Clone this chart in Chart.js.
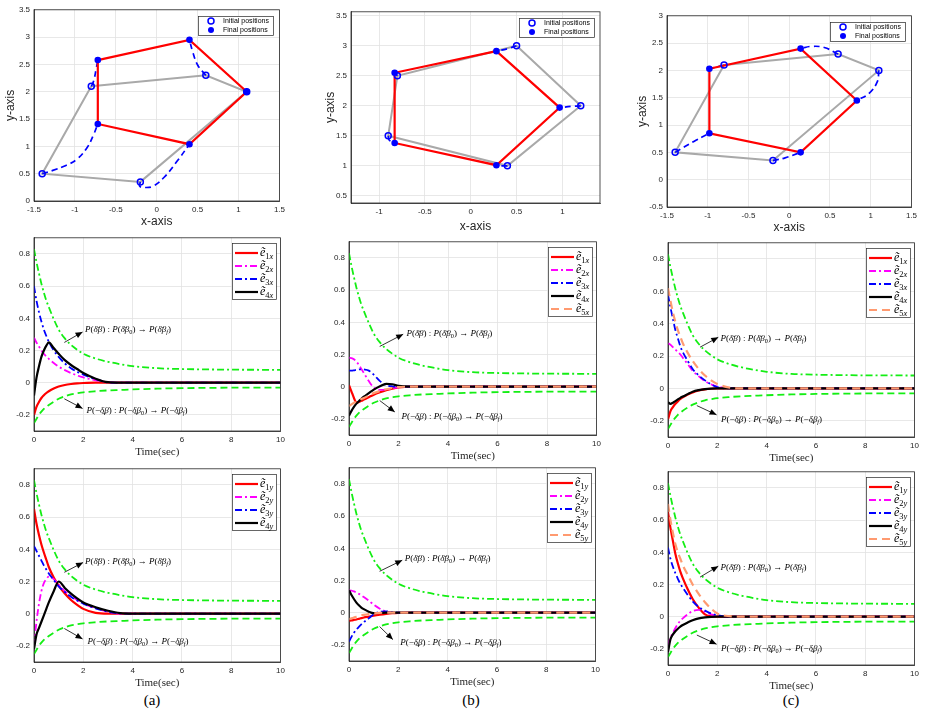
<!DOCTYPE html>
<html><head><meta charset="utf-8">
<script src="https://cdn.jsdelivr.net/npm/chart.js@4.4.1/dist/chart.umd.min.js"></script>
<style>
html,body{margin:0;padding:0;background:#fff;}
body{width:927px;height:719px;position:relative;overflow:hidden;}
canvas{position:absolute;}
.cap{position:absolute;font-family:"Liberation Serif","Times New Roman",serif;font-size:15px;color:#000;transform:translate(-50%,-50%);white-space:nowrap;}
</style></head><body>
<div class="cap" style="left:152px;top:700px">(a)</div>
<div class="cap" style="left:471px;top:700px">(b)</div>
<div class="cap" style="left:791px;top:700px">(c)</div>
<script>
// ---------------- DATA ----------------
// Top row: formation positions (x-axis / y-axis)
const INIT_A_X = [-0.8, 0.6, 1.1, -0.2, -1.4];
const INIT_A_Y = [2.1, 2.3, 2.0, 0.35, 0.5];
const FINAL_A_X = [-0.72, 0.4, 1.1, 0.4, -0.72];
const FINAL_A_Y = [2.58, 2.95, 2.0, 1.04, 1.41];
const TRAJ_A_X = [[-0.8,-0.77,-0.74,-0.72],[0.6,0.5,0.44,0.4],[-0.2,-0.207,-0.147,-0.046,0.094,0.255,0.4],[-1.4,-1.27,-1.11,-0.97,-0.85,-0.77,-0.72]];
const TRAJ_A_Y = [[2.1,2.2,2.42,2.58],[2.3,2.49,2.73,2.95],[0.35,0.27,0.247,0.27,0.44,0.74,1.04],[0.5,0.56,0.65,0.77,0.98,1.22,1.41]];

const INIT_B_X = [0.5, 1.2, 0.4, -0.9, -0.8];
const INIT_B_Y = [3.0, 2.0, 1.0, 1.5, 2.5];
const FINAL_B_X = [0.28, 0.97, 0.28, -0.83, -0.83];
const FINAL_B_Y = [2.91, 1.97, 1.01, 1.38, 2.55];
const TRAJ_B_X = [[0.5,0.4,0.28],[1.2,1.1,0.97],[0.4,0.34,0.28],[-0.9,-0.89,-0.83],[-0.8,-0.82,-0.83]];
const TRAJ_B_Y = [[3.0,2.95,2.91],[2.0,1.99,1.97],[1.0,1.0,1.01],[1.5,1.43,1.38],[2.5,2.53,2.55]];

const INIT_C_X = [-0.8, 0.6, 1.1, -0.2, -1.4];
const INIT_C_Y = [2.1, 2.3, 2.0, 0.35, 0.5];
const FINAL_C_X = [-0.98, 0.14, 0.83, 0.14, -0.98];
const FINAL_C_Y = [2.03, 2.4, 1.45, 0.5, 0.85];
const TRAJ_C_X = [[-0.8,-0.9,-0.98],[0.6,0.43,0.27,0.14],[1.1,1.08,0.98,0.83],[-0.2,-0.05,0.14],[-1.4,-1.17,-0.98]];
const TRAJ_C_Y = [[2.1,2.06,2.03],[2.3,2.42,2.44,2.4],[2.0,1.79,1.58,1.45],[0.35,0.4,0.5],[0.5,0.7,0.85]];

const POS_LABELS = ['Initial positions', 'Final positions'];

// Error plots: time samples and values
const T = [0,0.1,0.2,0.3,0.4,0.5,0.6,0.8,1,1.25,1.5,1.75,2,2.5,3,3.5,4,5,6,8,10];
const UPPER = [0.83,0.75,0.68,0.615,0.56,0.51,0.47,0.395,0.33,0.275,0.235,0.205,0.18,0.15,0.13,0.115,0.103,0.09,0.085,0.081,0.08];
const LOWER = [-0.25,-0.225,-0.2,-0.18,-0.163,-0.15,-0.138,-0.118,-0.1,-0.085,-0.073,-0.066,-0.06,-0.053,-0.048,-0.045,-0.042,-0.037,-0.034,-0.031,-0.03];

const A_E1X = [-0.2,-0.15,-0.12,-0.095,-0.078,-0.064,-0.053,-0.036,-0.024,-0.014,-0.008,-0.004,-0.002,0,0,0,0,0,0,0,0];
const A_E2X = [0.28,0.25,0.225,0.2,0.18,0.163,0.148,0.122,0.1,0.078,0.06,0.045,0.033,0.015,0.004,0,0,0,0,0,0];
const A_E3X = [0.6,0.51,0.44,0.38,0.33,0.29,0.255,0.2,0.16,0.12,0.09,0.068,0.05,0.022,0.002,0,0,0,0,0,0];
const A_E4X = [-0.08,0.03,0.1,0.16,0.2,0.23,0.25,0.215,0.18,0.14,0.11,0.085,0.06,0.025,0.003,0,0,0,0,0,0];

const A_E1Y = [0.65,0.56,0.49,0.43,0.38,0.335,0.29,0.225,0.175,0.125,0.085,0.055,0.03,0.005,0,0,0,0,0,0,0];
const A_E2Y = [-0.2,-0.05,0.06,0.14,0.19,0.215,0.23,0.215,0.18,0.14,0.11,0.085,0.063,0.035,0.012,0,0,0,0,0,0];
const A_E3Y = [0.42,0.39,0.36,0.33,0.3,0.275,0.25,0.21,0.17,0.135,0.105,0.082,0.063,0.033,0.012,0.002,0,0,0,0,0];
const A_E4Y = [-0.22,-0.13,-0.09,-0.05,-0.01,0.03,0.07,0.14,0.2,0.16,0.125,0.095,0.07,0.04,0.018,0.003,0,0,0,0,0];

const B_E1X = [0.01,-0.03,-0.07,-0.1,-0.095,-0.088,-0.08,-0.065,-0.05,-0.035,-0.022,-0.012,-0.005,0,0,0,0,0,0,0,0];
const B_E2X = [0.18,0.178,0.17,0.155,0.135,0.11,0.085,0.035,-0.005,-0.02,-0.018,-0.01,-0.004,0,0,0,0,0,0,0,0];
const B_E3X = [0.1,0.1,0.102,0.105,0.107,0.108,0.107,0.1,0.075,0.035,0.01,0.002,0,0,0,0,0,0,0,0,0];
const B_E4X = [-0.18,-0.15,-0.125,-0.105,-0.09,-0.075,-0.062,-0.04,-0.018,0.003,0.018,0.015,0.005,0,0,0,0,0,0,0,0];
const B_E5X = [-0.12,-0.11,-0.1,-0.092,-0.085,-0.077,-0.07,-0.055,-0.04,-0.027,-0.016,-0.008,-0.002,0,0,0,0,0,0,0,0];

const B_E1Y = [-0.05,-0.048,-0.045,-0.042,-0.038,-0.034,-0.03,-0.024,-0.018,-0.012,-0.007,-0.003,-0.001,0,0,0,0,0,0,0,0];
const B_E2Y = [0.14,0.137,0.132,0.125,0.117,0.107,0.097,0.075,0.05,0.025,0.008,0.002,0,0,0,0,0,0,0,0,0];
const B_E3Y = [-0.18,-0.15,-0.125,-0.105,-0.088,-0.072,-0.058,-0.035,-0.01,0.005,0.008,0.004,0.001,0,0,0,0,0,0,0,0];
const B_E4Y = [0.14,0.11,0.085,0.063,0.046,0.032,0.022,0.006,-0.003,-0.002,0,0,0,0,0,0,0,0,0,0,0];
const B_E5Y = [-0.04,-0.035,-0.03,-0.025,-0.02,-0.016,-0.013,-0.008,-0.004,-0.001,0,0,0,0,0,0,0,0,0,0,0];

const C_E1X = [-0.19,-0.14,-0.115,-0.095,-0.08,-0.065,-0.055,-0.038,-0.025,-0.013,-0.006,-0.002,0,0,0,0,0,0,0,0,0];
const C_E2X = [0.28,0.27,0.255,0.24,0.225,0.21,0.19,0.15,0.11,0.075,0.045,0.025,0.012,0.002,0,0,0,0,0,0,0];
const C_E3X = [0.58,0.5,0.43,0.36,0.31,0.26,0.225,0.17,0.12,0.08,0.05,0.025,0.008,0,0,0,0,0,0,0,0];
const C_E4X = [-0.085,-0.095,-0.088,-0.078,-0.068,-0.058,-0.05,-0.035,-0.02,-0.01,-0.004,-0.001,0,0,0,0,0,0,0,0,0];
const C_E5X = [0.62,0.54,0.47,0.41,0.36,0.32,0.28,0.22,0.17,0.12,0.08,0.05,0.028,0.005,0,0,0,0,0,0,0];

const C_E1Y = [0.65,0.55,0.47,0.39,0.33,0.28,0.24,0.17,0.11,0.055,0.015,0.002,0,0,0,0,0,0,0,0,0];
const C_E2Y = [-0.18,-0.13,-0.1,-0.07,-0.045,-0.025,-0.01,0.015,0.035,0.043,0.03,0.015,0.005,0,0,0,0,0,0,0,0];
const C_E3Y = [0.43,0.36,0.31,0.27,0.235,0.205,0.18,0.135,0.095,0.06,0.038,0.02,0.01,0,0,0,0,0,0,0,0];
const C_E4Y = [-0.22,-0.14,-0.11,-0.09,-0.075,-0.062,-0.052,-0.036,-0.022,-0.01,-0.004,-0.001,0,0,0,0,0,0,0,0,0];
const C_E5Y = [0.7,0.6,0.52,0.45,0.4,0.36,0.32,0.26,0.2,0.14,0.09,0.05,0.02,0.003,0,0,0,0,0,0,0];

const SUBS_X = ['1x','2x','3x','4x','5x'];
const SUBS_Y = ['1y','2y','3y','4y','5y'];

// Tick labels
const TICKS_TIME = [0,2,4,6,8,10];
const TICKS_ERR = [-0.2,0,0.2,0.4,0.6,0.8];
const TICKS_POS_X_AC = [-1.5,-1,-0.5,0,0.5,1,1.5];
const TICKS_POS_X_B = [-1,-0.5,0,0.5,1];
const TICKS_POS_Y_A = [0,0.5,1,1.5,2,2.5,3,3.5];
const TICKS_POS_Y_B = [0.5,1,1.5,2,2.5,3,3.5];
const TICKS_POS_Y_C = [-0.5,0,0.5,1,1.5,2,2.5,3];

// Annotation texts
const NOTE_UP = [['P','i'],['(','n'],['δ\u0304β','i'],[')','n'],[' : ','n'],['P','i'],['(','n'],['δ\u0304β','i'],['0','s'],[')','n'],[' → ','n'],['P','i'],['(','n'],['δ\u0304β','i'],['f','si'],[')','n']];
const NOTE_LO = [['P','i'],['(−','n'],['δ\u0332β','i'],[')','n'],[' : ','n'],['P','i'],['(−','n'],['δ\u0332β','i'],['0','s'],[')','n'],[' → ','n'],['P','i'],['(−','n'],['δ\u0332β','i'],['f','si'],[')','n']];

// ---------------- STYLE / HELPERS ----------------
const PAD_T = 6, PAD_R = 6;
const INK = '#262626';
const GREEN = '#14ee14';
const SERIES_STYLE = [
  {color:'#ff0000', dash:[], width:2.2},
  {color:'#ff00ff', dash:[7,3,2,3], width:1.8},
  {color:'#0000ff', dash:[7,3,2,3], width:1.8},
  {color:'#000000', dash:[], width:2.2},
  {color:'#ff9a70', dash:[8,5], width:2.2}
];
const SERIF = '"Liberation Serif","Times New Roman",serif';
const SANS = '"Liberation Sans",Arial,sans-serif';

function drawRich(ctx, x, y, segs, size) {
  ctx.save();
  ctx.textBaseline = 'middle'; ctx.textAlign = 'left'; ctx.fillStyle = '#000';
  let cx = x;
  for (const [t, st] of segs) {
    const sub = st === 's' || st === 'si';
    const it = st === 'i' || st === 'si';
    const fs = sub ? size * 0.7 : size;
    ctx.font = (it ? 'italic ' : '') + fs + 'px ' + SERIF;
    ctx.fillText(t, cx, y + (sub ? size * 0.3 : 0));
    cx += ctx.measureText(t).width;
  }
  ctx.restore();
  return cx - x;
}

const framePlugin = {
  id: 'frame',
  afterDatasetsDraw(chart) {
    const {ctx, chartArea: a} = chart;
    ctx.save(); ctx.strokeStyle = INK; ctx.lineWidth = 0.8; ctx.setLineDash([]);
    ctx.strokeRect(a.left, a.top, a.right - a.left, a.bottom - a.top);
    ctx.restore();
  }
};

const notesPlugin = {
  id: 'notes',
  afterDatasetsDraw(chart, args, opts) {
    if (!opts || !opts.items) return;
    const {ctx} = chart, sx = chart.scales.x, sy = chart.scales.y;
    ctx.save();
    for (const it of opts.items) {
      const x1 = sx.getPixelForValue(it.from[0]), y1 = sy.getPixelForValue(it.from[1]);
      const x2 = sx.getPixelForValue(it.to[0]), y2 = sy.getPixelForValue(it.to[1]);
      ctx.strokeStyle = '#000'; ctx.fillStyle = '#000'; ctx.lineWidth = 0.8; ctx.setLineDash([]);
      ctx.beginPath(); ctx.moveTo(x1, y1); ctx.lineTo(x2, y2); ctx.stroke();
      const a = Math.atan2(y2 - y1, x2 - x1), L = 7, W = 3;
      const bx = x2 - L * Math.cos(a), by = y2 - L * Math.sin(a);
      ctx.beginPath(); ctx.moveTo(x2, y2);
      ctx.lineTo(bx + W * Math.sin(a), by - W * Math.cos(a));
      ctx.lineTo(bx - W * Math.sin(a), by + W * Math.cos(a));
      ctx.closePath(); ctx.fill();
      drawRich(ctx, sx.getPixelForValue(it.at[0]), sy.getPixelForValue(it.at[1]), it.text, 9);
    }
    ctx.restore();
  }
};

const boxLegendPlugin = {
  id: 'boxLegend',
  afterDraw(chart, args, opts) {
    if (!opts || !opts.kind) return;
    const {ctx, chartArea: ca} = chart;
    const items = chart.data.datasets.filter(d => d.label).sort((p, q) => p.legendIndex - q.legendIndex);
    const w = opts.width, h = opts.top0 + (items.length - 1) * opts.rowH + opts.bottom0;
    const x = Math.round(ca.right - opts.gap - w), y = Math.round(ca.top + opts.gap);
    ctx.save();
    ctx.fillStyle = '#fff'; ctx.fillRect(x, y, w, h);
    ctx.strokeStyle = INK; ctx.lineWidth = 0.7; ctx.setLineDash([]);
    ctx.strokeRect(x + 0.5, y + 0.5, w, h);
    items.forEach((d, i) => {
      const cy = y + opts.top0 + i * opts.rowH;
      if (opts.kind === 'line') {
        ctx.beginPath(); ctx.setLineDash(d.borderDash || []);
        ctx.strokeStyle = d.borderColor; ctx.lineWidth = d.borderWidth;
        ctx.moveTo(x + 3, cy); ctx.lineTo(x + 26, cy); ctx.stroke(); ctx.setLineDash([]);
        drawRich(ctx, x + 28, cy, [[d.label, 'i'], [d.sub.slice(0, 1), 's'], [d.sub.slice(1), 'si']], 12);
      } else {
        ctx.beginPath(); ctx.arc(x + 13, cy, 3, 0, Math.PI * 2);
        if (d.filledMarker) { ctx.fillStyle = d.pointBorderColor; ctx.fill(); }
        else { ctx.strokeStyle = d.pointBorderColor; ctx.lineWidth = 1.5; ctx.stroke(); }
        ctx.fillStyle = '#000'; ctx.font = '7px ' + SANS; ctx.textBaseline = 'middle';
        ctx.fillText(d.label, x + 25, cy);
      }
    });
    ctx.restore();
  }
};

function place(box, yw, xh) {
  const c = document.createElement('canvas');
  const w = box.R - box.L + yw + PAD_R, h = box.B - box.T + PAD_T + xh;
  c.width = w; c.height = h;
  c.style.left = (box.L - yw) + 'px'; c.style.top = (box.T - PAD_T) + 'px';
  c.style.width = w + 'px'; c.style.height = h + 'px';
  document.body.appendChild(c);
  return c;
}

function fmt(v) { return String(Math.round(v * 100) / 100); }

function axis(min, max, ticks, size, isX, title, titleFont) {
  return {
    type: 'linear', min, max,
    afterBuildTicks: s => { s.ticks = ticks.map(v => ({value: v})); },
    afterFit: s => { if (isX) s.height = size; else s.width = size; },
    grid: {color: '#e2e2e2', lineWidth: 0.8, drawTicks: false},
    border: {display: true, color: INK, width: 0.8},
    ticks: {font: {family: SANS, size: 8}, color: INK, padding: 4, maxRotation: 0, autoSkip: false, callback: v => fmt(v)},
    title: title ? {display: true, text: title, font: titleFont, color: INK, padding: 0} : {display: false}
  };
}

function baseOptions(xAxis, yAxis, plugins) {
  return {
    responsive: false, animation: false, events: [],
    layout: {padding: {top: PAD_T, right: PAD_R, left: 0, bottom: 0}},
    scales: {x: xAxis, y: yAxis},
    plugins: Object.assign({legend: {display: false}, tooltip: {enabled: false}}, plugins)
  };
}

function pts(xs, ys) { return xs.map((x, i) => ({x, y: ys[i]})); }

function posChart(box, yw, xh, xr, yr, xt, yt, ix, iy, fx, fy, tx, ty) {
  const c = place(box, yw, xh);
  const ds = [];
  const gray = pts(ix, iy); gray.push(gray[0]);
  ds.push({data: gray, showLine: true, borderColor: '#a9a9a9', borderWidth: 2, pointRadius: 0});
  tx.forEach((xs, k) => ds.push({data: pts(xs, ty[k]), showLine: true, borderColor: '#0000ff', borderWidth: 1.7, borderDash: [6, 4], tension: 0.4, pointRadius: 0}));
  const red = pts(fx, fy); red.push(red[0]);
  ds.push({data: red, showLine: true, borderColor: '#ff0000', borderWidth: 2.2, pointRadius: 0});
  ds.push({data: pts(ix, iy), showLine: false, pointRadius: 3, pointBorderWidth: 1.5, pointBorderColor: '#0000ff', pointBackgroundColor: 'rgba(0,0,0,0)', label: POS_LABELS[0], legendIndex: 0});
  ds.push({data: pts(fx, fy), showLine: false, pointRadius: 3.3, pointBorderWidth: 0, pointBorderColor: '#0000ff', pointBackgroundColor: '#0000ff', label: POS_LABELS[1], legendIndex: 1, filledMarker: true});
  ds.forEach((d, i) => d.order = ds.length - i);
  const tf = {family: SANS, size: 12};
  new Chart(c, {
    type: 'scatter', data: {datasets: ds},
    options: baseOptions(axis(xr[0], xr[1], xt, xh, true, 'x-axis', tf), axis(yr[0], yr[1], yt, yw, false, 'y-axis', tf),
      {boxLegend: {kind: 'marker', width: 75, rowH: 9, top0: 5, bottom0: 5, gap: 6}}),
    plugins: [framePlugin, boxLegendPlugin]
  });
}

function errChart(box, series, subs, notes) {
  const c = place(box, 30, 28);
  const ds = [];
  const mk = (vals, color, dash, width) => ({data: pts(T, vals), showLine: true, pointRadius: 0, borderColor: color, borderDash: dash, borderWidth: width, cubicInterpolationMode: 'monotone', fill: false});
  ds.push(mk(UPPER, GREEN, [7, 3, 2, 3], 1.8));
  ds.push(mk(LOWER, GREEN, [7, 4], 1.8));
  series.forEach((vals, i) => {
    const st = SERIES_STYLE[i];
    ds.push(Object.assign(mk(vals, st.color, st.dash, st.width), {label: 'ẽ', sub: subs[i], legendIndex: i}));
  });
  ds.forEach((d, i) => d.order = ds.length - i);
  const tf = {family: SERIF, size: 11};
  new Chart(c, {
    type: 'scatter', data: {datasets: ds},
    options: baseOptions(axis(0, 10, TICKS_TIME, 28, true, 'Time(sec)', tf), axis(-0.3, 0.9, TICKS_ERR, 30, false),
      {boxLegend: {kind: 'line', width: 44, rowH: 13, top0: 10, bottom0: 7, gap: 5}, notes: {items: notes}}),
    plugins: [framePlugin, notesPlugin, boxLegendPlugin]
  });
}

// ---------------- BUILD ----------------
posChart({L:34, T:7, R:283, B:201}, 31, 28, [-1.5, 1.5], [0, 3.5], TICKS_POS_X_AC, TICKS_POS_Y_A,
  INIT_A_X, INIT_A_Y, FINAL_A_X, FINAL_A_Y, TRAJ_A_X, TRAJ_A_Y);
posChart({L:351, T:9, R:600, B:203}, 28, 31, [-1.306, 1.41], [0.38, 3.566], TICKS_POS_X_B, TICKS_POS_Y_B,
  INIT_B_X, INIT_B_Y, FINAL_B_X, FINAL_B_Y, TRAJ_B_X, TRAJ_B_Y);
posChart({L:667, T:13, R:915, B:207}, 32, 28, [-1.5, 1.5], [-0.5, 3], TICKS_POS_X_AC, TICKS_POS_Y_C,
  INIT_C_X, INIT_C_Y, FINAL_C_X, FINAL_C_Y, TRAJ_C_X, TRAJ_C_Y);

errChart({L:34, T:235, R:283, B:431}, [A_E1X, A_E2X, A_E3X, A_E4X], SUBS_X, [
  {from:[1.23,0.25], to:[1.97,0.315], at:[2.07,0.33], text:NOTE_UP},
  {from:[1.23,-0.1], to:[1.97,-0.16], at:[2.13,-0.175], text:NOTE_LO}]);
errChart({L:349, T:239, R:599, B:435}, [B_E1X, B_E2X, B_E3X, B_E4X, B_E5X], SUBS_X, [
  {from:[1.24,0.25], to:[2.19,0.326], at:[2.32,0.33], text:NOTE_UP},
  {from:[1.24,-0.086], to:[1.85,-0.157], at:[2.12,-0.187], text:NOTE_LO}]);
errChart({L:668, T:240, R:917, B:437}, [C_E1X, C_E2X, C_E3X, C_E4X, C_E5X], SUBS_X, [
  {from:[1.3,0.255], to:[2.04,0.316], at:[2.13,0.31], text:NOTE_UP},
  {from:[1.17,-0.106], to:[1.97,-0.163], at:[2.15,-0.193], text:NOTE_LO}]);

errChart({L:34, T:466, R:283, B:662}, [A_E1Y, A_E2Y, A_E3Y, A_E4Y], SUBS_Y, [
  {from:[1.23,0.257], to:[1.99,0.318], at:[2.07,0.326], text:NOTE_UP},
  {from:[1.23,-0.092], to:[1.97,-0.157], at:[2.17,-0.173], text:NOTE_LO}]);
errChart({L:349, T:465, R:598, B:661}, [B_E1Y, B_E2Y, B_E3Y, B_E4Y, B_E5Y], SUBS_Y, [
  {from:[1.24,0.257], to:[2.16,0.326], at:[2.26,0.338], text:NOTE_UP},
  {from:[1.24,-0.086], to:[1.78,-0.167], at:[2.08,-0.187], text:NOTE_LO}]);
errChart({L:668, T:469, R:917, B:665}, [C_E1Y, C_E2Y, C_E3Y, C_E4Y, C_E5Y], SUBS_Y, [
  {from:[1.3,0.246], to:[2.04,0.314], at:[2.13,0.307], text:NOTE_UP},
  {from:[1.17,-0.114], to:[1.97,-0.171], at:[2.15,-0.2], text:NOTE_LO}]);
</script>
</body></html>
